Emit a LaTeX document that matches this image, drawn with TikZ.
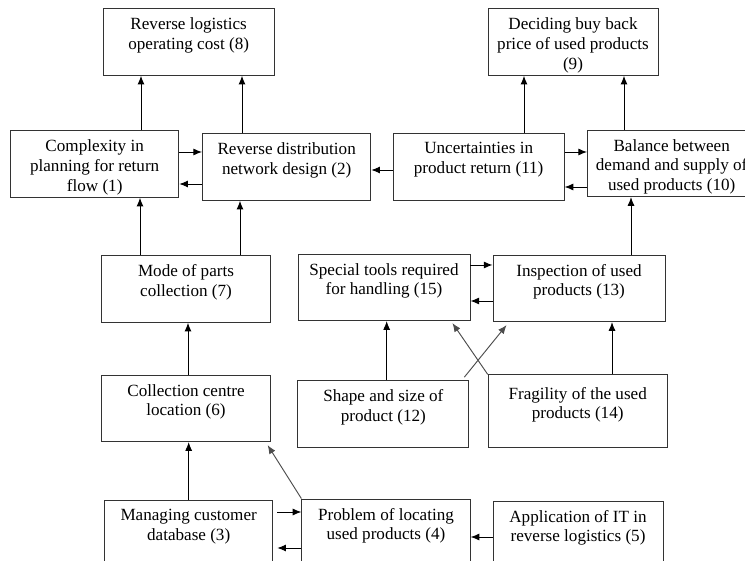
\documentclass[tikz,border=0pt]{standalone}
\usepackage{fontspec}
\setmainfont{Liberation Serif}
\usetikzlibrary{arrows.meta}
\newcommand{\blocktext}[2][4.8cm]{\parbox[c][1.45cm][t]{#1}{\centering #2}}
\tikzset{
    block/.style={draw=black!80, thick, inner sep=0pt, minimum width=5.05cm, minimum height=2.0cm},
    link/.style={thick, ->, >={Latex[length=2.6mm, width=2.1mm]}},
    cross/.style={link, black!70},
}
\begin{document}
\begin{tikzpicture}[every node/.style={font=\fontsize{14.6}{16.8}\selectfont}]
    \useasboundingbox (0,0) rectangle (22.35,16.8);
    \clip (0,0) rectangle (22.35,16.8);

    % Top row
    \node[block, minimum width=5.13cm] (n8) at (5.66,15.54) {\blocktext{Reverse logistics\\operating cost (8)}};
    \node[block, minimum width=5.1cm] (n9) at (17.19,15.54) {\blocktext{Deciding buy back\\price of used products\\(9)}};

    % Second row
    \node[block] (n1) at (2.84,11.88) {\blocktext{Complexity in\\planning for return\\flow (1)}};
    \node[block] (n2) at (8.6,11.79) {\blocktext{Reverse distribution\\network design (2)}};
    \node[block, minimum width=5.13cm] (n11) at (14.36,11.8) {\blocktext{Uncertainties in\\product return (11)}};
    \node[block] (n10) at (20.15,11.9) {\blocktext{Balance between\\demand and supply of\\used products (10)}};

    % Third row
    \node[block] (n7) at (5.58,8.13) {\blocktext{Mode of parts\\collection (7)}};
    \node[block, minimum width=5.16cm] (n15) at (11.52,8.18) {\blocktext{Special tools required\\for handling (15)}};
    \node[block, minimum width=5.16cm] (n13) at (17.37,8.15) {\blocktext{Inspection of used\\products (13)}};

    % Fourth row
    \node[block] (n6) at (5.58,4.55) {\blocktext{Collection centre\\location (6)}};
    \node[block, minimum width=5.13cm] (n12) at (11.5,4.38) {\blocktext{Shape and size of\\product (12)}};
    \node[block, minimum width=5.37cm, minimum height=2.19cm] (n14) at (17.33,4.46) {\blocktext{Fragility of the used\\products (14)}};

    % Bottom row
    \node[block] (n3) at (5.66,0.8) {\blocktext{Managing customer\\database (3)}};
    \node[block] (n4) at (11.58,0.83) {\blocktext{Problem of locating\\used products (4)}};
    \node[block, minimum width=5.1cm] (n5) at (17.34,0.77) {\blocktext{Application of IT in\\reverse logistics (5)}};

    % Upward links
    \draw[link] ([xshift=1.39cm]n1.north) -- ([xshift=1.39cm]n1.north |- n8.south);
    \draw[link] ([xshift=-1.34cm]n2.north) -- ([xshift=-1.34cm]n2.north |- n8.south);
    \draw[link] ([xshift=1.36cm]n11.north) -- ([xshift=1.36cm]n11.north |- n9.south);
    \draw[link] ([xshift=-1.43cm]n10.north) -- ([xshift=-1.43cm]n10.north |- n9.south);
    \draw[link] ([xshift=-1.38cm]n7.north) -- ([xshift=-1.38cm]n7.north |- n1.south);
    \draw[link] ([xshift=1.62cm]n7.north) -- ([xshift=1.62cm]n7.north |- n2.south);
    \draw[link] ([xshift=0.06cm]n6.north) -- ([xshift=0.06cm]n6.north |- n7.south);
    \draw[link] (n3.north) -- (n3.north |- n6.south);
    \draw[link] ([xshift=0.1cm]n12.north) -- ([xshift=0.1cm]n12.north |- n15.south);
    \draw[link] ([xshift=1.03cm]n14.north) -- ([xshift=1.03cm]n14.north |- n13.south);
    \draw[link] ([xshift=1.56cm]n13.north) -- ([xshift=1.56cm]n13.north |- n10.south);

    % Sideways links
    \draw[link] ([yshift=0.36cm]n1.east) -- ([yshift=0.36cm]n1.east -| n2.west);
    \draw[link] ([yshift=-0.51cm]n2.west) -- ([yshift=-0.51cm]n2.west -| n1.east);
    \draw[link] ([yshift=-0.1cm]n11.west) -- ([yshift=-0.1cm]n11.west -| n2.east);
    \draw[link] ([yshift=0.44cm]n11.east) -- ([yshift=0.44cm]n11.east -| n10.west);
    \draw[link] ([yshift=-0.71cm]n10.west) -- ([yshift=-0.71cm]n10.west -| n11.east);
    \draw[link] ([yshift=0.67cm]n15.east) -- ([yshift=0.67cm]n15.east -| n13.west);
    \draw[link] ([yshift=-0.38cm]n13.west) -- ([yshift=-0.38cm]n13.west -| n15.east);
    \draw[link, shorten <=0.12cm] ([yshift=0.64cm]n3.east) -- ([yshift=0.64cm]n3.east -| n4.west);
    \draw[link, shorten >=0.12cm] ([yshift=-0.47cm]n4.west) -- ([yshift=-0.47cm]n4.west -| n3.east);
    \draw[link] ([yshift=-0.08cm]n5.west) -- ([yshift=-0.08cm]n5.west -| n4.east);

    % Slanted links
    \draw[cross] (n4.north west) -- ([xshift=-0.09cm, yshift=-0.09cm]n6.south east);
    \draw[cross] ([xshift=-0.15cm, yshift=0.09cm]n12.north east) -- ([xshift=0.42cm, yshift=-0.09cm]n13.south west);
    \draw[cross] (n14.north west) -- ([xshift=-0.54cm, yshift=-0.06cm]n15.south east);
\end{tikzpicture}
\end{document}
